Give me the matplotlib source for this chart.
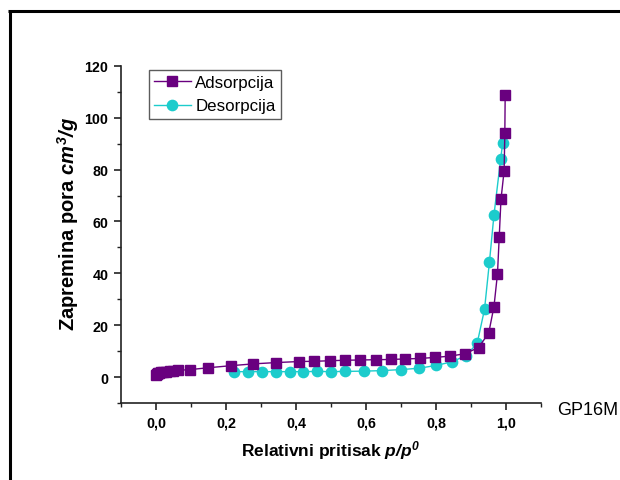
import matplotlib
matplotlib.use("Agg")
import matplotlib.pyplot as plt
from matplotlib.lines import Line2D
from matplotlib.ticker import MultipleLocator, FuncFormatter

plt.rcParams['font.family'] = ['Liberation Sans', 'DejaVu Sans']
plt.rcParams['mathtext.fontset'] = 'custom'
plt.rcParams['mathtext.it'] = 'Liberation Sans:italic:bold'
plt.rcParams['mathtext.rm'] = 'Liberation Sans:italic:bold'
plt.rcParams['mathtext.bf'] = 'Liberation Sans:bold'

# Adsorption branch
ads_p = [0.001, 0.003, 0.006, 0.010, 0.015, 0.020, 0.030, 0.040, 0.050, 0.062,
         0.098, 0.149, 0.214, 0.278, 0.343, 0.408, 0.452, 0.496, 0.539, 0.583,
         0.627, 0.670, 0.712, 0.755, 0.798, 0.840, 0.882, 0.921, 0.950, 0.965,
         0.975, 0.980, 0.985, 0.994, 0.996, 0.997]
ads_v = [0.8, 1.1, 1.4, 1.6, 1.8, 1.9, 2.1, 2.3, 2.4, 2.6,
         2.9, 3.6, 4.4, 5.1, 5.6, 6.0, 6.1, 6.3, 6.5, 6.6,
         6.7, 6.8, 7.0, 7.2, 7.6, 8.1, 9.0, 11.4, 17.0, 27.2,
         39.8, 54.0, 68.5, 79.6, 94.1, 108.8]

# Desorption branch
des_p = [0.223, 0.263, 0.303, 0.343, 0.382, 0.421, 0.461, 0.500, 0.540, 0.593,
         0.646, 0.699, 0.750, 0.800, 0.845, 0.885, 0.917, 0.938, 0.952, 0.965,
         0.984, 0.990]
des_v = [2.1, 2.1, 2.1, 2.1, 2.1, 2.1, 2.2, 2.1, 2.2, 2.3,
         2.5, 2.9, 3.4, 4.5, 5.9, 8.3, 13.0, 26.1, 44.3, 62.5,
         84.0, 90.4]

purple = '#69007f'
cyan = '#1ccccc'

fig = plt.figure(figsize=(6.2, 4.81), dpi=100)
ax = fig.add_axes([0.195, 0.160, 0.678, 0.701])

ax.plot(ads_p, ads_v, color=purple, lw=1.0, marker='s', ms=6.8,
        mec=purple, mfc=purple, label='Adsorpcija', zorder=3)
ax.plot(des_p, des_v, color=cyan, lw=1.0, marker='o', ms=7.4,
        mec=cyan, mfc=cyan, label='Desorpcija', zorder=2)

ax.set_xlim(-0.1, 1.1)
ax.set_ylim(-10, 120)
ax.xaxis.set_major_locator(MultipleLocator(0.2))
ax.xaxis.set_minor_locator(MultipleLocator(0.1))
ax.yaxis.set_major_locator(MultipleLocator(20))
ax.yaxis.set_minor_locator(MultipleLocator(10))
ax.xaxis.set_major_formatter(FuncFormatter(lambda v, p: f'{v:.1f}'.replace('.', ',').replace('-0,0', '0,0')))
ax.yaxis.set_major_formatter(FuncFormatter(lambda v, p: f'{v:.0f}'))

for s in ('top', 'right'):
    ax.spines[s].set_visible(False)
for s in ('left', 'bottom'):
    ax.spines[s].set_linewidth(1.2)
    ax.spines[s].set_color('#222222')

ax.tick_params(which='major', direction='out', length=5, width=1.2, color='#222222', pad=4)
ax.tick_params(which='minor', direction='out', length=3, width=1.0, color='#222222')
for lab in ax.get_xticklabels() + ax.get_yticklabels():
    lab.set_fontweight('bold')
    lab.set_fontsize(10.3)

ax.set_xlabel(r'Relativni pritisak $p/p^0$', fontsize=12.5, fontweight='bold', labelpad=6)
ax.set_ylabel(r'Zapremina pora $cm^3/g$', fontsize=14.5, fontweight='bold')
ax.yaxis.set_label_coords(-0.094, 0.535)

leg = ax.legend(loc='upper left', bbox_to_anchor=(0.066, 0.988), fontsize=12.2,
                frameon=True, fancybox=False, edgecolor='#333333',
                borderpad=0.3, handlelength=2.2, handletextpad=0.25,
                labelspacing=0.5, borderaxespad=0.0)
leg.get_frame().set_linewidth(1.0)

fig.text(0.948, 0.147, 'GP16M', fontsize=13, ha='center', va='center')

# Partial outer frame (top and left edges)
fig.add_artist(Line2D([0.013, 1.0], [0.976, 0.976], transform=fig.transFigure,
                      color='black', lw=2.2, solid_capstyle='butt'))
fig.add_artist(Line2D([0.0155, 0.0155], [0.0, 0.978], transform=fig.transFigure,
                      color='black', lw=2.2, solid_capstyle='butt'))

fig.savefig('out.png', dpi=100)
